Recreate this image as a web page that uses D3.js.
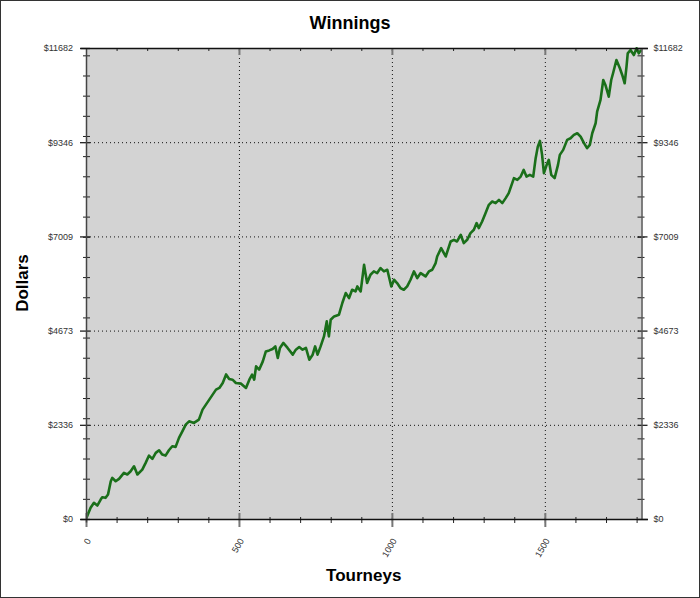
<!DOCTYPE html>
<html>
<head>
<meta charset="utf-8">
<script src="https://cdn.jsdelivr.net/npm/d3@7/dist/d3.min.js"></script>
<style>
  body { margin: 0; background: #fff; }
  svg { display: block; font-family: Arial, "Liberation Sans", sans-serif; }
</style>
</head>
<body>
<script>
'use strict';
// running winnings (tourney number, dollars)
const tourneys = [0, 15, 26, 37, 48, 53, 64, 72, 81, 86, 97, 108, 124, 135, 146, 157, 168, 184, 195, 206,
  217, 228, 239, 249, 260, 271, 282, 293, 304, 315, 326, 337, 353, 369, 381, 392, 403, 414, 425, 436,
  447, 458, 468, 479, 490, 507, 523, 534, 543, 550, 556, 566, 578, 588, 599, 610, 619, 627, 634, 645,
  659, 676, 686, 697, 708, 719, 730, 741, 749, 757, 767, 778, 787, 794, 800, 811, 827, 838, 849, 860,
  870, 881, 887, 898, 909, 919, 930, 941, 952, 963, 974, 985, 998, 1007, 1017, 1028, 1039, 1050, 1061, 1072,
  1083, 1094, 1110, 1121, 1132, 1143, 1148, 1161, 1176, 1192, 1203, 1213, 1225, 1235, 1246, 1257, 1268, 1277, 1284, 1295,
  1306, 1317, 1328, 1339, 1350, 1361, 1372, 1382, 1399, 1410, 1421, 1431, 1440, 1451, 1462, 1470, 1477, 1484, 1491, 1497,
  1506, 1513, 1521, 1532, 1543, 1549, 1560, 1573, 1584, 1595, 1606, 1617, 1628, 1638, 1647, 1655, 1666, 1671, 1682, 1691,
  1698, 1709, 1717, 1723, 1734, 1745, 1753, 1761, 1767, 1771, 1780, 1791, 1800, 1807, 1815];
const dollars = [0, 277, 401, 334, 483, 540, 525, 607, 937, 1021, 937, 996, 1145, 1103, 1184, 1308, 1103, 1226, 1392, 1573,
  1492, 1640, 1705, 1598, 1573, 1705, 1804, 1789, 2012, 2175, 2341, 2423, 2383, 2465, 2713, 2837, 2961, 3085, 3209, 3251,
  3374, 3585, 3474, 3456, 3374, 3357, 3251, 3456, 3580, 3456, 3786, 3704, 3910, 4157, 4182, 4217, 4281, 3994, 4242, 4366,
  4242, 4076, 4200, 4266, 4200, 4242, 3952, 4076, 4281, 4076, 4281, 4529, 4901, 4529, 4943, 5025, 5067, 5357, 5604, 5480,
  5686, 5644, 5768, 5644, 6305, 5852, 6058, 6140, 6100, 6224, 6140, 6182, 5768, 5934, 5852, 5728, 5686, 5768, 5934, 6140,
  5976, 6100, 6016, 6140, 6182, 6348, 6511, 6719, 6511, 6883, 6925, 6883, 7049, 6843, 6925, 7091, 7173, 7339, 7215, 7378,
  7586, 7792, 7874, 7834, 7916, 7834, 7958, 8082, 8453, 8411, 8493, 8659, 8493, 8535, 8493, 8949, 9236, 9378, 9031, 8577,
  8783, 8907, 8535, 8453, 8783, 9031, 9155, 9403, 9444, 9526, 9568, 9484, 9321, 9197, 9278, 9568, 9816, 10104, 10394, 10889,
  10765, 10475, 10889, 11055, 11385, 11186, 11013, 10807, 11219, 11550, 11632, 11508, 11674, 11550, 11632];

const xTicks = [0, 500, 1000, 1500];
const yTicks = [0, 2336, 4673, 7009, 9346, 11682];
const yTickLabels = ["$0", "$2336", "$4673", "$7009", "$9346", "$11682"];
const xMax = 1816;
const yMax = 11682;

(function() {
  let svg = "";

  window.onload = function() {
    svg = d3.select('body')
      .append('svg')
      .attr('width', 700)
      .attr('height', 598);
    drawChart();
  }

  function drawChart() {
    let left = 86, right = 641.5, top = 48, bottom = 519;

    let xScale = d3.scaleLinear().domain([0, xMax]).range([left, right]);
    let yScale = d3.scaleLinear().domain([0, yMax]).range([bottom, top]);

    // outer frame
    svg.append('rect')
      .attr('x', 0.5).attr('y', 0.5)
      .attr('width', 699).attr('height', 597)
      .attr('fill', '#fff')
      .attr('stroke', '#333');

    // grey plot background
    svg.append('rect')
      .attr('x', left).attr('y', top)
      .attr('width', right - left).attr('height', bottom - top)
      .attr('fill', '#d3d3d3');

    // dotted grid at the major ticks
    let gridX = svg.append('g')
      .attr('transform', `translate(0, ${bottom})`)
      .call(d3.axisBottom(xScale).tickValues(xTicks.slice(1)).tickSize(-(bottom - top)).tickFormat(''));
    let gridY = svg.append('g')
      .attr('transform', `translate(${left}, 0)`)
      .call(d3.axisLeft(yScale).tickValues(yTicks.slice(1, -1)).tickSize(-(right - left)).tickFormat(''));
    [gridX, gridY].forEach(g => {
      g.select('.domain').remove();
      g.selectAll('line').attr('stroke', '#111').attr('stroke-dasharray', '1,3');
    });

    // the winnings line
    svg.append('clipPath').attr('id', 'plotclip')
      .append('rect')
      .attr('x', left).attr('y', top - 1)
      .attr('width', right - left + 2).attr('height', bottom - top + 2);

    let line = d3.line()
      .x((d, i) => xScale(tourneys[i]))
      .y(d => yScale(d));

    svg.append('path')
      .datum(dollars)
      .attr('clip-path', 'url(#plotclip)')
      .attr('d', line)
      .attr('fill', 'none')
      .attr('stroke', '#1a6f1a')
      .attr('stroke-width', 2.6)
      .attr('stroke-linejoin', 'round');

    let yMinor = d3.range(0, yMax, 500);
    let xMinor = d3.range(0, xMax, 100);

    // left axis: minor ticks, then major ticks with labels
    addAxis(d3.axisLeft(yScale).tickValues(yMinor).tickSize(7).tickFormat(''), `translate(${left + 4}, 0)`);
    let leftAxis = addAxis(d3.axisLeft(yScale).tickValues(yTicks).tickSize(10).tickPadding(7)
      .tickFormat((d, i) => yTickLabels[i]), `translate(${left + 4}, 0)`);
    leftAxis.selectAll('line').attr('stroke-width', 1.3);

    // right axis mirrors the left one
    addAxis(d3.axisRight(yScale).tickValues(yMinor).tickSize(7).tickFormat(''), `translate(${right - 4}, 0)`);
    let rightAxis = addAxis(d3.axisRight(yScale).tickValues(yTicks).tickSize(10).tickPadding(6)
      .tickFormat((d, i) => yTickLabels[i]), `translate(${right - 4}, 0)`);
    rightAxis.selectAll('line').attr('stroke-width', 1.3);

    // bottom axis
    addAxis(d3.axisBottom(xScale).tickValues(xMinor).tickSize(6).tickFormat(''), `translate(0, ${bottom - 2})`);
    let bottomAxis = addAxis(d3.axisBottom(xScale).tickValues(xTicks).tickSize(14).tickFormat(d3.format('d')),
      `translate(0, ${bottom - 6})`);
    bottomAxis.selectAll('line').attr('stroke', '#777').attr('stroke-width', 2);
    bottomAxis.selectAll('text')
      .attr('x', 0).attr('y', 0).attr('dy', '0.35em')
      .attr('text-anchor', 'end')
      .attr('transform', 'translate(2, 26) rotate(-60)');

    // top edge ticks
    addAxis(d3.axisBottom(xScale).tickValues(xMinor).tickSize(3).tickFormat(''), `translate(0, ${top})`);
    let topAxis = addAxis(d3.axisBottom(xScale).tickValues(xTicks.slice(1)).tickSize(7).tickFormat(''),
      `translate(0, ${top})`);
    topAxis.selectAll('line').attr('stroke', '#777').attr('stroke-width', 2);

    // axis lines round the plot
    svg.append('line').attr('x1', left).attr('x2', left).attr('y1', top).attr('y2', bottom + 3)
      .attr('transform', 'translate(0.5, 0.5)').attr('stroke', '#444').attr('stroke-width', 1.5);
    svg.append('line').attr('x1', right).attr('x2', right).attr('y1', top).attr('y2', bottom)
      .attr('transform', 'translate(0.5, 0.5)').attr('stroke', '#555').attr('stroke-width', 1.5);
    svg.append('line').attr('x1', left - 6).attr('x2', right + 6).attr('y1', top).attr('y2', top)
      .attr('transform', 'translate(0.5, 0.5)').attr('stroke', '#111').attr('stroke-width', 1.5);
    svg.append('line').attr('x1', left - 6).attr('x2', right + 6).attr('y1', bottom).attr('y2', bottom)
      .attr('transform', 'translate(0.5, 0.5)').attr('stroke', '#111').attr('stroke-width', 1.5);

    makeLabels(left, right);
  }

  // append an axis group and strip the domain path
  function addAxis(axis, transform) {
    let g = svg.append('g')
      .attr('transform', transform)
      .call(axis);
    g.select('.domain').remove();
    g.selectAll('line').attr('stroke', '#222');
    g.selectAll('text').attr('fill', '#333').style('font-size', '9px')
      .style('font-family', 'Arial, "Liberation Sans", sans-serif');
    return g;
  }

  // title and axis titles
  function makeLabels(left, right) {
    svg.append('text')
      .attr('x', 350)
      .attr('y', 29)
      .attr('text-anchor', 'middle')
      .style('font-size', '18px')
      .style('font-weight', 'bold')
      .text('Winnings');

    svg.append('text')
      .attr('x', (left + right) / 2)
      .attr('y', 581)
      .attr('text-anchor', 'middle')
      .style('font-size', '17px')
      .style('font-weight', 'bold')
      .text('Tourneys');

    svg.append('text')
      .attr('transform', 'translate(28, 283) rotate(-90)')
      .attr('text-anchor', 'middle')
      .style('font-size', '17px')
      .style('font-weight', 'bold')
      .text('Dollars');
  }
})();
</script>
</body>
</html>
